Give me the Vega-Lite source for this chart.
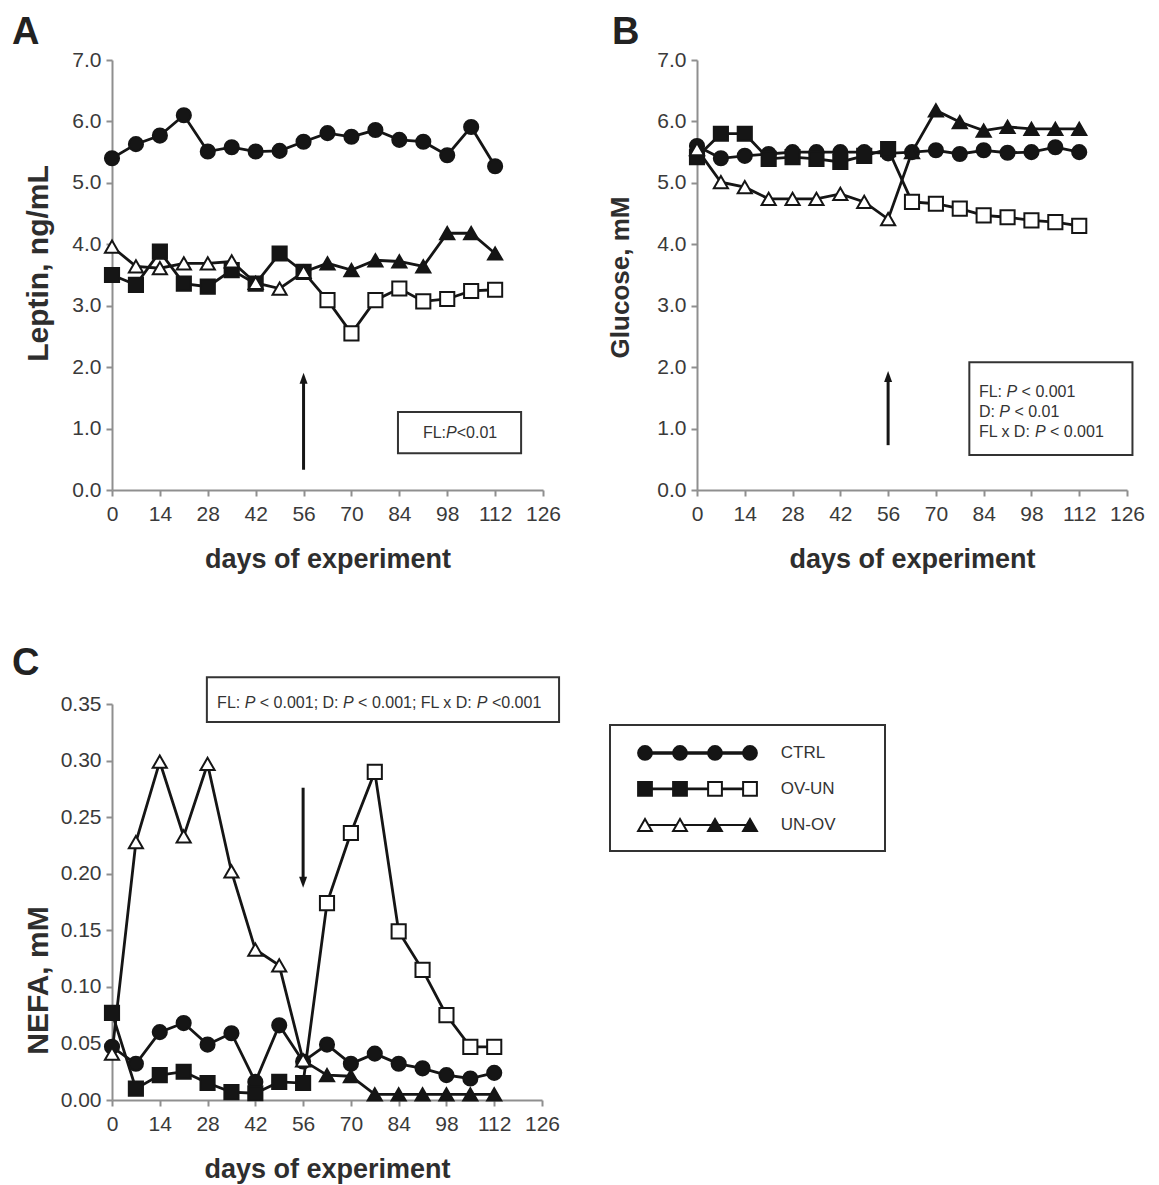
{
  "$schema": "https://vega.github.io/schema/vega-lite/v6.json",
  "background": "white",
  "padding": {"left": 12, "top": 14, "right": 5, "bottom": 2},
  "config": {
    "view": {"stroke": null},
    "font": "Liberation Sans",
    "axis": {
      "grid": false,
      "domainColor": "#8f8f8f",
      "domainWidth": 2,
      "tickColor": "#8f8f8f",
      "tickWidth": 2,
      "tickSize": 6,
      "labelFont": "Liberation Sans",
      "labelFontSize": 21,
      "labelColor": "#3a3a3a",
      "labelOverlap": false,
      "labelFlush": false,
      "titleFont": "Liberation Sans",
      "titleFontWeight": "bold",
      "titleColor": "#2e2e2e"
    },
    "axisX": {"labelPadding": 7, "titlePadding": 22, "titleFontSize": 27},
    "axisY": {"labelPadding": 5, "titlePadding": 18, "titleFontSize": 30},
    "title": {"font": "Liberation Sans", "fontSize": 38, "fontWeight": "bold", "color": "#222222", "anchor": "start", "frame": "group", "dx": -100, "baseline": "alphabetic", "offset": -3}
  },
  "datasets": {
    "leptin": [
      {"day": 0, "group": "CTRL", "diet": "CTRL", "value": 5.40}, {"day": 7, "group": "CTRL", "diet": "CTRL", "value": 5.63}, {"day": 14, "group": "CTRL", "diet": "CTRL", "value": 5.77}, {"day": 21, "group": "CTRL", "diet": "CTRL", "value": 6.10}, {"day": 28, "group": "CTRL", "diet": "CTRL", "value": 5.51}, {"day": 35, "group": "CTRL", "diet": "CTRL", "value": 5.58}, {"day": 42, "group": "CTRL", "diet": "CTRL", "value": 5.51}, {"day": 49, "group": "CTRL", "diet": "CTRL", "value": 5.52}, {"day": 56, "group": "CTRL", "diet": "CTRL", "value": 5.67}, {"day": 63, "group": "CTRL", "diet": "CTRL", "value": 5.81}, {"day": 70, "group": "CTRL", "diet": "CTRL", "value": 5.75}, {"day": 77, "group": "CTRL", "diet": "CTRL", "value": 5.86}, {"day": 84, "group": "CTRL", "diet": "CTRL", "value": 5.70}, {"day": 91, "group": "CTRL", "diet": "CTRL", "value": 5.67}, {"day": 98, "group": "CTRL", "diet": "CTRL", "value": 5.45}, {"day": 105, "group": "CTRL", "diet": "CTRL", "value": 5.91}, {"day": 112, "group": "CTRL", "diet": "CTRL", "value": 5.27},
      {"day": 0, "group": "OV-UN", "diet": "OV", "value": 3.50}, {"day": 7, "group": "OV-UN", "diet": "OV", "value": 3.34}, {"day": 14, "group": "OV-UN", "diet": "OV", "value": 3.88}, {"day": 21, "group": "OV-UN", "diet": "OV", "value": 3.36}, {"day": 28, "group": "OV-UN", "diet": "OV", "value": 3.31}, {"day": 35, "group": "OV-UN", "diet": "OV", "value": 3.58}, {"day": 42, "group": "OV-UN", "diet": "OV", "value": 3.36}, {"day": 49, "group": "OV-UN", "diet": "OV", "value": 3.85}, {"day": 56, "group": "OV-UN", "diet": "OV", "value": 3.55}, {"day": 63, "group": "OV-UN", "diet": "UN", "value": 3.09}, {"day": 70, "group": "OV-UN", "diet": "UN", "value": 2.55}, {"day": 77, "group": "OV-UN", "diet": "UN", "value": 3.09}, {"day": 84, "group": "OV-UN", "diet": "UN", "value": 3.28}, {"day": 91, "group": "OV-UN", "diet": "UN", "value": 3.07}, {"day": 98, "group": "OV-UN", "diet": "UN", "value": 3.11}, {"day": 105, "group": "OV-UN", "diet": "UN", "value": 3.24}, {"day": 112, "group": "OV-UN", "diet": "UN", "value": 3.26},
      {"day": 0, "group": "UN-OV", "diet": "UN", "value": 3.96}, {"day": 7, "group": "UN-OV", "diet": "UN", "value": 3.64}, {"day": 14, "group": "UN-OV", "diet": "UN", "value": 3.61}, {"day": 21, "group": "UN-OV", "diet": "UN", "value": 3.69}, {"day": 28, "group": "UN-OV", "diet": "UN", "value": 3.69}, {"day": 35, "group": "UN-OV", "diet": "UN", "value": 3.72}, {"day": 42, "group": "UN-OV", "diet": "UN", "value": 3.37}, {"day": 49, "group": "UN-OV", "diet": "UN", "value": 3.28}, {"day": 56, "group": "UN-OV", "diet": "UN", "value": 3.55}, {"day": 63, "group": "UN-OV", "diet": "OV", "value": 3.69}, {"day": 70, "group": "UN-OV", "diet": "OV", "value": 3.58}, {"day": 77, "group": "UN-OV", "diet": "OV", "value": 3.74}, {"day": 84, "group": "UN-OV", "diet": "OV", "value": 3.72}, {"day": 91, "group": "UN-OV", "diet": "OV", "value": 3.64}, {"day": 98, "group": "UN-OV", "diet": "OV", "value": 4.18}, {"day": 105, "group": "UN-OV", "diet": "OV", "value": 4.18}, {"day": 112, "group": "UN-OV", "diet": "OV", "value": 3.85}
    ],
    "glucose": [
      {"day": 0, "group": "CTRL", "diet": "CTRL", "value": 5.60}, {"day": 7, "group": "CTRL", "diet": "CTRL", "value": 5.40}, {"day": 14, "group": "CTRL", "diet": "CTRL", "value": 5.44}, {"day": 21, "group": "CTRL", "diet": "CTRL", "value": 5.47}, {"day": 28, "group": "CTRL", "diet": "CTRL", "value": 5.50}, {"day": 35, "group": "CTRL", "diet": "CTRL", "value": 5.50}, {"day": 42, "group": "CTRL", "diet": "CTRL", "value": 5.50}, {"day": 49, "group": "CTRL", "diet": "CTRL", "value": 5.50}, {"day": 56, "group": "CTRL", "diet": "CTRL", "value": 5.48}, {"day": 63, "group": "CTRL", "diet": "CTRL", "value": 5.50}, {"day": 70, "group": "CTRL", "diet": "CTRL", "value": 5.53}, {"day": 77, "group": "CTRL", "diet": "CTRL", "value": 5.47}, {"day": 84, "group": "CTRL", "diet": "CTRL", "value": 5.53}, {"day": 91, "group": "CTRL", "diet": "CTRL", "value": 5.49}, {"day": 98, "group": "CTRL", "diet": "CTRL", "value": 5.50}, {"day": 105, "group": "CTRL", "diet": "CTRL", "value": 5.58}, {"day": 112, "group": "CTRL", "diet": "CTRL", "value": 5.50},
      {"day": 0, "group": "OV-UN", "diet": "OV", "value": 5.42}, {"day": 7, "group": "OV-UN", "diet": "OV", "value": 5.80}, {"day": 14, "group": "OV-UN", "diet": "OV", "value": 5.80}, {"day": 21, "group": "OV-UN", "diet": "OV", "value": 5.39}, {"day": 28, "group": "OV-UN", "diet": "OV", "value": 5.42}, {"day": 35, "group": "OV-UN", "diet": "OV", "value": 5.39}, {"day": 42, "group": "OV-UN", "diet": "OV", "value": 5.34}, {"day": 49, "group": "OV-UN", "diet": "OV", "value": 5.44}, {"day": 56, "group": "OV-UN", "diet": "OV", "value": 5.55}, {"day": 63, "group": "OV-UN", "diet": "UN", "value": 4.69}, {"day": 70, "group": "OV-UN", "diet": "UN", "value": 4.66}, {"day": 77, "group": "OV-UN", "diet": "UN", "value": 4.58}, {"day": 84, "group": "OV-UN", "diet": "UN", "value": 4.47}, {"day": 91, "group": "OV-UN", "diet": "UN", "value": 4.44}, {"day": 98, "group": "OV-UN", "diet": "UN", "value": 4.39}, {"day": 105, "group": "OV-UN", "diet": "UN", "value": 4.36}, {"day": 112, "group": "OV-UN", "diet": "UN", "value": 4.30},
      {"day": 0, "group": "UN-OV", "diet": "UN", "value": 5.55}, {"day": 7, "group": "UN-OV", "diet": "UN", "value": 5.01}, {"day": 14, "group": "UN-OV", "diet": "UN", "value": 4.93}, {"day": 21, "group": "UN-OV", "diet": "UN", "value": 4.74}, {"day": 28, "group": "UN-OV", "diet": "UN", "value": 4.74}, {"day": 35, "group": "UN-OV", "diet": "UN", "value": 4.74}, {"day": 42, "group": "UN-OV", "diet": "UN", "value": 4.82}, {"day": 49, "group": "UN-OV", "diet": "UN", "value": 4.69}, {"day": 56, "group": "UN-OV", "diet": "UN", "value": 4.41}, {"day": 63, "group": "UN-OV", "diet": "OV", "value": 5.50}, {"day": 70, "group": "UN-OV", "diet": "OV", "value": 6.18}, {"day": 77, "group": "UN-OV", "diet": "OV", "value": 5.99}, {"day": 84, "group": "UN-OV", "diet": "OV", "value": 5.85}, {"day": 91, "group": "UN-OV", "diet": "OV", "value": 5.91}, {"day": 98, "group": "UN-OV", "diet": "OV", "value": 5.88}, {"day": 105, "group": "UN-OV", "diet": "OV", "value": 5.88}, {"day": 112, "group": "UN-OV", "diet": "OV", "value": 5.88}
    ],
    "nefa": [
      {"day": 0, "group": "CTRL", "diet": "CTRL", "value": 0.047}, {"day": 7, "group": "CTRL", "diet": "CTRL", "value": 0.032}, {"day": 14, "group": "CTRL", "diet": "CTRL", "value": 0.060}, {"day": 21, "group": "CTRL", "diet": "CTRL", "value": 0.068}, {"day": 28, "group": "CTRL", "diet": "CTRL", "value": 0.049}, {"day": 35, "group": "CTRL", "diet": "CTRL", "value": 0.059}, {"day": 42, "group": "CTRL", "diet": "CTRL", "value": 0.016}, {"day": 49, "group": "CTRL", "diet": "CTRL", "value": 0.066}, {"day": 56, "group": "CTRL", "diet": "CTRL", "value": 0.034}, {"day": 63, "group": "CTRL", "diet": "CTRL", "value": 0.049}, {"day": 70, "group": "CTRL", "diet": "CTRL", "value": 0.032}, {"day": 77, "group": "CTRL", "diet": "CTRL", "value": 0.041}, {"day": 84, "group": "CTRL", "diet": "CTRL", "value": 0.032}, {"day": 91, "group": "CTRL", "diet": "CTRL", "value": 0.028}, {"day": 98, "group": "CTRL", "diet": "CTRL", "value": 0.022}, {"day": 105, "group": "CTRL", "diet": "CTRL", "value": 0.019}, {"day": 112, "group": "CTRL", "diet": "CTRL", "value": 0.024},
      {"day": 0, "group": "OV-UN", "diet": "OV", "value": 0.077}, {"day": 7, "group": "OV-UN", "diet": "OV", "value": 0.010}, {"day": 14, "group": "OV-UN", "diet": "OV", "value": 0.022}, {"day": 21, "group": "OV-UN", "diet": "OV", "value": 0.025}, {"day": 28, "group": "OV-UN", "diet": "OV", "value": 0.015}, {"day": 35, "group": "OV-UN", "diet": "OV", "value": 0.007}, {"day": 42, "group": "OV-UN", "diet": "OV", "value": 0.006}, {"day": 49, "group": "OV-UN", "diet": "OV", "value": 0.016}, {"day": 56, "group": "OV-UN", "diet": "OV", "value": 0.015}, {"day": 63, "group": "OV-UN", "diet": "UN", "value": 0.174}, {"day": 70, "group": "OV-UN", "diet": "UN", "value": 0.236}, {"day": 77, "group": "OV-UN", "diet": "UN", "value": 0.290}, {"day": 84, "group": "OV-UN", "diet": "UN", "value": 0.149}, {"day": 91, "group": "OV-UN", "diet": "UN", "value": 0.115}, {"day": 98, "group": "OV-UN", "diet": "UN", "value": 0.075}, {"day": 105, "group": "OV-UN", "diet": "UN", "value": 0.047}, {"day": 112, "group": "OV-UN", "diet": "UN", "value": 0.047},
      {"day": 0, "group": "UN-OV", "diet": "UN", "value": 0.041}, {"day": 7, "group": "UN-OV", "diet": "UN", "value": 0.228}, {"day": 14, "group": "UN-OV", "diet": "UN", "value": 0.299}, {"day": 21, "group": "UN-OV", "diet": "UN", "value": 0.233}, {"day": 28, "group": "UN-OV", "diet": "UN", "value": 0.297}, {"day": 35, "group": "UN-OV", "diet": "UN", "value": 0.202}, {"day": 42, "group": "UN-OV", "diet": "UN", "value": 0.133}, {"day": 49, "group": "UN-OV", "diet": "UN", "value": 0.119}, {"day": 56, "group": "UN-OV", "diet": "UN", "value": 0.035}, {"day": 63, "group": "UN-OV", "diet": "OV", "value": 0.022}, {"day": 70, "group": "UN-OV", "diet": "OV", "value": 0.021}, {"day": 77, "group": "UN-OV", "diet": "OV", "value": 0.005}, {"day": 84, "group": "UN-OV", "diet": "OV", "value": 0.005}, {"day": 91, "group": "UN-OV", "diet": "OV", "value": 0.005}, {"day": 98, "group": "UN-OV", "diet": "OV", "value": 0.005}, {"day": 105, "group": "UN-OV", "diet": "OV", "value": 0.005}, {"day": 112, "group": "UN-OV", "diet": "OV", "value": 0.005}
    ],
    "key": [
      {"group": "CTRL", "row": 1, "slot": 1, "diet": "CTRL"}, {"group": "CTRL", "row": 1, "slot": 2, "diet": "CTRL"}, {"group": "CTRL", "row": 1, "slot": 3, "diet": "CTRL"}, {"group": "CTRL", "row": 1, "slot": 4, "diet": "CTRL"},
      {"group": "OV-UN", "row": 2, "slot": 1, "diet": "OV"}, {"group": "OV-UN", "row": 2, "slot": 2, "diet": "OV"}, {"group": "OV-UN", "row": 2, "slot": 3, "diet": "UN"}, {"group": "OV-UN", "row": 2, "slot": 4, "diet": "UN"},
      {"group": "UN-OV", "row": 3, "slot": 1, "diet": "UN"}, {"group": "UN-OV", "row": 3, "slot": 2, "diet": "UN"}, {"group": "UN-OV", "row": 3, "slot": 3, "diet": "OV"}, {"group": "UN-OV", "row": 3, "slot": 4, "diet": "OV"}
    ]
  },
  "spacing": 73,
  "vconcat": [
    {
      "bounds": "flush",
      "spacing": 154,
      "hconcat": [
        {
          "width": 431,
          "height": 430,
          "title": {"text": "A"},
          "layer": [
            {
              "data": {"name": "leptin"},
              "mark": {"type": "line", "color": "#151515", "strokeWidth": 2.8},
              "encoding": {
                "x": {"field": "day", "type": "quantitative", "scale": {"domain": [0, 126], "nice": false, "zero": false}, "axis": {"values": [0, 14, 28, 42, 56, 70, 84, 98, 112, 126], "title": "days of experiment"}},
                "y": {"field": "value", "type": "quantitative", "scale": {"domain": [0, 7], "nice": false}, "axis": {"values": [0, 1, 2, 3, 4, 5, 6, 7], "format": ".1f", "title": "Leptin, ng/mL", "titleY": 203}},
                "detail": {"field": "group"}
              }
            },
            {
              "data": {"name": "leptin"},
              "mark": {"type": "point", "stroke": "#151515", "strokeWidth": 2, "opacity": 1, "size": 200},
              "encoding": {
                "x": {"field": "day", "type": "quantitative"},
                "y": {"field": "value", "type": "quantitative"},
                "shape": {"field": "group", "scale": {"domain": ["CTRL", "OV-UN", "UN-OV"], "range": ["circle", "square", "triangle-up"]}, "legend": null},
                "fill": {"field": "diet", "scale": {"domain": ["CTRL", "OV", "UN"], "range": ["#151515", "#151515", "#ffffff"]}, "legend": null}
              }
            },
            {
              "data": {"values": [{}]},
              "mark": {"type": "rule", "color": "#151515", "strokeWidth": 3},
              "encoding": {"x": {"datum": 56, "type": "quantitative"}, "y": {"datum": 0.33, "type": "quantitative"}, "y2": {"datum": 1.8}}
            },
            {
              "data": {"values": [{}]},
              "mark": {"type": "point", "shape": "M0,-1.2L0.8,1L-0.8,1Z", "size": 100, "filled": true, "color": "#151515", "opacity": 1},
              "encoding": {"x": {"datum": 56, "type": "quantitative"}, "y": {"datum": 1.81, "type": "quantitative"}}
            },
            {
              "data": {"values": [{}]},
              "mark": {"type": "rect", "fill": "#ffffff", "stroke": "#333333", "strokeWidth": 2},
              "encoding": {"x": {"datum": 83.6, "type": "quantitative"}, "x2": {"datum": 119.6}, "y": {"datum": 1.27, "type": "quantitative"}, "y2": {"datum": 0.6}}
            },
            {
              "data": {"values": [{}]},
              "mark": {"type": "text", "text": "FL:", "align": "left", "baseline": "alphabetic", "fontSize": 16, "color": "#333333"},
              "encoding": {"x": {"datum": 90.9, "type": "quantitative"}, "y": {"datum": 0.847, "type": "quantitative"}}
            },
            {
              "data": {"values": [{}]},
              "mark": {"type": "text", "text": "P", "align": "left", "baseline": "alphabetic", "fontSize": 16, "fontStyle": "italic", "dx": 23.1, "color": "#333333"},
              "encoding": {"x": {"datum": 90.9, "type": "quantitative"}, "y": {"datum": 0.847, "type": "quantitative"}}
            },
            {
              "data": {"values": [{}]},
              "mark": {"type": "text", "text": "<0.01", "align": "left", "baseline": "alphabetic", "fontSize": 16, "dx": 33.8, "color": "#333333"},
              "encoding": {"x": {"datum": 90.9, "type": "quantitative"}, "y": {"datum": 0.847, "type": "quantitative"}}
            }
          ]
        },
        {
          "width": 430,
          "height": 430,
          "title": {"text": "B", "dx": -85},
          "layer": [
            {
              "data": {"name": "glucose"},
              "mark": {"type": "line", "color": "#151515", "strokeWidth": 2.8},
              "encoding": {
                "x": {"field": "day", "type": "quantitative", "scale": {"domain": [0, 126], "nice": false, "zero": false}, "axis": {"values": [0, 14, 28, 42, 56, 70, 84, 98, 112, 126], "title": "days of experiment"}},
                "y": {"field": "value", "type": "quantitative", "scale": {"domain": [0, 7], "nice": false}, "axis": {"values": [0, 1, 2, 3, 4, 5, 6, 7], "format": ".1f", "title": "Glucose, mM", "titleFontSize": 26, "titlePadding": 23, "titleY": 217}},
                "detail": {"field": "group"}
              }
            },
            {
              "data": {"name": "glucose"},
              "mark": {"type": "point", "stroke": "#151515", "strokeWidth": 2, "opacity": 1, "size": 200},
              "encoding": {
                "x": {"field": "day", "type": "quantitative"},
                "y": {"field": "value", "type": "quantitative"},
                "shape": {"field": "group", "scale": {"domain": ["CTRL", "OV-UN", "UN-OV"], "range": ["circle", "square", "triangle-up"]}, "legend": null},
                "fill": {"field": "diet", "scale": {"domain": ["CTRL", "OV", "UN"], "range": ["#151515", "#151515", "#ffffff"]}, "legend": null}
              }
            },
            {
              "data": {"values": [{}]},
              "mark": {"type": "rule", "color": "#151515", "strokeWidth": 3},
              "encoding": {"x": {"datum": 56, "type": "quantitative"}, "y": {"datum": 0.73, "type": "quantitative"}, "y2": {"datum": 1.83}}
            },
            {
              "data": {"values": [{}]},
              "mark": {"type": "point", "shape": "M0,-1.2L0.8,1L-0.8,1Z", "size": 100, "filled": true, "color": "#151515", "opacity": 1},
              "encoding": {"x": {"datum": 56, "type": "quantitative"}, "y": {"datum": 1.84, "type": "quantitative"}}
            },
            {
              "data": {"values": [{}]},
              "mark": {"type": "rect", "fill": "#ffffff", "stroke": "#333333", "strokeWidth": 2},
              "encoding": {"x": {"datum": 79.8, "type": "quantitative"}, "x2": {"datum": 127.6}, "y": {"datum": 2.08, "type": "quantitative"}, "y2": {"datum": 0.57}}
            },
            {
              "data": {"values": [{}]},
              "mark": {"type": "text", "text": "FL:", "align": "left", "baseline": "alphabetic", "fontSize": 16, "color": "#333333"},
              "encoding": {"x": {"datum": 82.6, "type": "quantitative"}, "y": {"datum": 1.515, "type": "quantitative"}}
            },
            {
              "data": {"values": [{}]},
              "mark": {"type": "text", "text": "P", "align": "left", "baseline": "alphabetic", "fontSize": 16, "fontStyle": "italic", "dx": 27.6, "color": "#333333"},
              "encoding": {"x": {"datum": 82.6, "type": "quantitative"}, "y": {"datum": 1.515, "type": "quantitative"}}
            },
            {
              "data": {"values": [{}]},
              "mark": {"type": "text", "text": "< 0.001", "align": "left", "baseline": "alphabetic", "fontSize": 16, "dx": 42.7, "color": "#333333"},
              "encoding": {"x": {"datum": 82.6, "type": "quantitative"}, "y": {"datum": 1.515, "type": "quantitative"}}
            },
            {
              "data": {"values": [{}]},
              "mark": {"type": "text", "text": "D:", "align": "left", "baseline": "alphabetic", "fontSize": 16, "color": "#333333"},
              "encoding": {"x": {"datum": 82.6, "type": "quantitative"}, "y": {"datum": 1.189, "type": "quantitative"}}
            },
            {
              "data": {"values": [{}]},
              "mark": {"type": "text", "text": "P", "align": "left", "baseline": "alphabetic", "fontSize": 16, "fontStyle": "italic", "dx": 20.4, "color": "#333333"},
              "encoding": {"x": {"datum": 82.6, "type": "quantitative"}, "y": {"datum": 1.189, "type": "quantitative"}}
            },
            {
              "data": {"values": [{}]},
              "mark": {"type": "text", "text": "< 0.01", "align": "left", "baseline": "alphabetic", "fontSize": 16, "dx": 35.5, "color": "#333333"},
              "encoding": {"x": {"datum": 82.6, "type": "quantitative"}, "y": {"datum": 1.189, "type": "quantitative"}}
            },
            {
              "data": {"values": [{}]},
              "mark": {"type": "text", "text": "FL x D:", "align": "left", "baseline": "alphabetic", "fontSize": 16, "color": "#333333"},
              "encoding": {"x": {"datum": 82.6, "type": "quantitative"}, "y": {"datum": 0.863, "type": "quantitative"}}
            },
            {
              "data": {"values": [{}]},
              "mark": {"type": "text", "text": "P", "align": "left", "baseline": "alphabetic", "fontSize": 16, "fontStyle": "italic", "dx": 56.0, "color": "#333333"},
              "encoding": {"x": {"datum": 82.6, "type": "quantitative"}, "y": {"datum": 0.863, "type": "quantitative"}}
            },
            {
              "data": {"values": [{}]},
              "mark": {"type": "text", "text": "< 0.001", "align": "left", "baseline": "alphabetic", "fontSize": 16, "dx": 71.1, "color": "#333333"},
              "encoding": {"x": {"datum": 82.6, "type": "quantitative"}, "y": {"datum": 0.863, "type": "quantitative"}}
            }
          ]
        }
      ]
    },
    {
      "bounds": "flush",
      "spacing": 68,
      "hconcat": [
        {
          "width": 430,
          "height": 396,
          "title": {"text": "C", "offset": -7},
          "layer": [
            {
              "data": {"name": "nefa"},
              "mark": {"type": "line", "color": "#151515", "strokeWidth": 2.8},
              "encoding": {
                "x": {"field": "day", "type": "quantitative", "scale": {"domain": [0, 126], "nice": false, "zero": false}, "axis": {"values": [0, 14, 28, 42, 56, 70, 84, 98, 112, 126], "title": "days of experiment"}},
                "y": {"field": "value", "type": "quantitative", "scale": {"domain": [0, 0.35], "nice": false}, "axis": {"values": [0, 0.05, 0.1, 0.15, 0.2, 0.25, 0.3, 0.35], "format": ".2f", "title": "NEFA, mM", "titlePadding": 7, "titleY": 276}},
                "detail": {"field": "group"}
              }
            },
            {
              "data": {"name": "nefa"},
              "mark": {"type": "point", "stroke": "#151515", "strokeWidth": 2, "opacity": 1, "size": 200},
              "encoding": {
                "x": {"field": "day", "type": "quantitative"},
                "y": {"field": "value", "type": "quantitative"},
                "shape": {"field": "group", "scale": {"domain": ["CTRL", "OV-UN", "UN-OV"], "range": ["circle", "square", "triangle-up"]}, "legend": null},
                "fill": {"field": "diet", "scale": {"domain": ["CTRL", "OV", "UN"], "range": ["#151515", "#151515", "#ffffff"]}, "legend": null}
              }
            },
            {
              "data": {"values": [{}]},
              "mark": {"type": "rule", "color": "#151515", "strokeWidth": 3},
              "encoding": {"x": {"datum": 56, "type": "quantitative"}, "y": {"datum": 0.276, "type": "quantitative"}, "y2": {"datum": 0.195}}
            },
            {
              "data": {"values": [{}]},
              "mark": {"type": "point", "shape": "M0,1.2L0.8,-1L-0.8,-1Z", "size": 100, "filled": true, "color": "#151515", "opacity": 1},
              "encoding": {"x": {"datum": 56, "type": "quantitative"}, "y": {"datum": 0.193, "type": "quantitative"}}
            },
            {
              "data": {"values": [{}]},
              "mark": {"type": "rect", "fill": "#ffffff", "stroke": "#333333", "strokeWidth": 2},
              "encoding": {"x": {"datum": 27.8, "type": "quantitative"}, "x2": {"datum": 131}, "y": {"datum": 0.3737, "type": "quantitative"}, "y2": {"datum": 0.334}}
            },
            {
              "data": {"values": [{}]},
              "mark": {"type": "text", "text": "FL:", "align": "left", "baseline": "alphabetic", "fontSize": 16, "color": "#333333"},
              "encoding": {"x": {"datum": 30.8, "type": "quantitative"}, "y": {"datum": 0.3463, "type": "quantitative"}}
            },
            {
              "data": {"values": [{}]},
              "mark": {"type": "text", "text": "P", "align": "left", "baseline": "alphabetic", "fontSize": 16, "fontStyle": "italic", "dx": 27.6, "color": "#333333"},
              "encoding": {"x": {"datum": 30.8, "type": "quantitative"}, "y": {"datum": 0.3463, "type": "quantitative"}}
            },
            {
              "data": {"values": [{}]},
              "mark": {"type": "text", "text": "< 0.001; D:", "align": "left", "baseline": "alphabetic", "fontSize": 16, "dx": 42.7, "color": "#333333"},
              "encoding": {"x": {"datum": 30.8, "type": "quantitative"}, "y": {"datum": 0.3463, "type": "quantitative"}}
            },
            {
              "data": {"values": [{}]},
              "mark": {"type": "text", "text": "P", "align": "left", "baseline": "alphabetic", "fontSize": 16, "fontStyle": "italic", "dx": 125.9, "color": "#333333"},
              "encoding": {"x": {"datum": 30.8, "type": "quantitative"}, "y": {"datum": 0.3463, "type": "quantitative"}}
            },
            {
              "data": {"values": [{}]},
              "mark": {"type": "text", "text": "< 0.001; FL x D:", "align": "left", "baseline": "alphabetic", "fontSize": 16, "dx": 141.0, "color": "#333333"},
              "encoding": {"x": {"datum": 30.8, "type": "quantitative"}, "y": {"datum": 0.3463, "type": "quantitative"}}
            },
            {
              "data": {"values": [{}]},
              "mark": {"type": "text", "text": "P", "align": "left", "baseline": "alphabetic", "fontSize": 16, "fontStyle": "italic", "dx": 259.7, "color": "#333333"},
              "encoding": {"x": {"datum": 30.8, "type": "quantitative"}, "y": {"datum": 0.3463, "type": "quantitative"}}
            },
            {
              "data": {"values": [{}]},
              "mark": {"type": "text", "text": "<0.001", "align": "left", "baseline": "alphabetic", "fontSize": 16, "dx": 274.8, "color": "#333333"},
              "encoding": {"x": {"datum": 30.8, "type": "quantitative"}, "y": {"datum": 0.3463, "type": "quantitative"}}
            }
          ]
        },
        {
          "width": 275,
          "height": 148,
          "data": {"name": "key"},
          "layer": [
            {
              "data": {"values": [{}]},
              "mark": {"type": "rect", "fill": "#ffffff", "stroke": "#333333", "strokeWidth": 2},
              "encoding": {
                "x": {"datum": 0, "type": "quantitative", "scale": {"domain": [0, 7.857], "nice": false, "zero": false}, "axis": null},
                "x2": {"datum": 7.857},
                "y": {"datum": 0.22, "type": "quantitative", "scale": {"domain": [-0.36, 3.75], "reverse": true, "nice": false, "zero": false}, "axis": null},
                "y2": {"datum": 3.72}
              }
            },
            {
              "mark": {"type": "line", "color": "#151515"},
              "encoding": {
                "x": {"field": "slot", "type": "quantitative"},
                "y": {"field": "row", "type": "quantitative"},
                "detail": {"field": "group"},
                "strokeWidth": {"field": "group", "scale": {"domain": ["CTRL", "OV-UN", "UN-OV"], "range": [3.5, 2, 2]}, "legend": null}
              }
            },
            {
              "mark": {"type": "point", "stroke": "#151515", "strokeWidth": 2, "opacity": 1, "size": 190},
              "encoding": {
                "x": {"field": "slot", "type": "quantitative"},
                "y": {"field": "row", "type": "quantitative"},
                "shape": {"field": "group", "scale": {"domain": ["CTRL", "OV-UN", "UN-OV"], "range": ["circle", "square", "triangle-up"]}, "legend": null},
                "fill": {"field": "diet", "scale": {"domain": ["CTRL", "OV", "UN"], "range": ["#151515", "#151515", "#ffffff"]}, "legend": null}
              }
            },
            {
              "transform": [{"filter": "datum.slot === 4"}],
              "mark": {"type": "text", "align": "left", "baseline": "middle", "fontSize": 17, "color": "#333333"},
              "encoding": {
                "x": {"datum": 4.88, "type": "quantitative"},
                "y": {"field": "row", "type": "quantitative"},
                "text": {"field": "group"}
              }
            }
          ]
        }
      ]
    }
  ]
}
